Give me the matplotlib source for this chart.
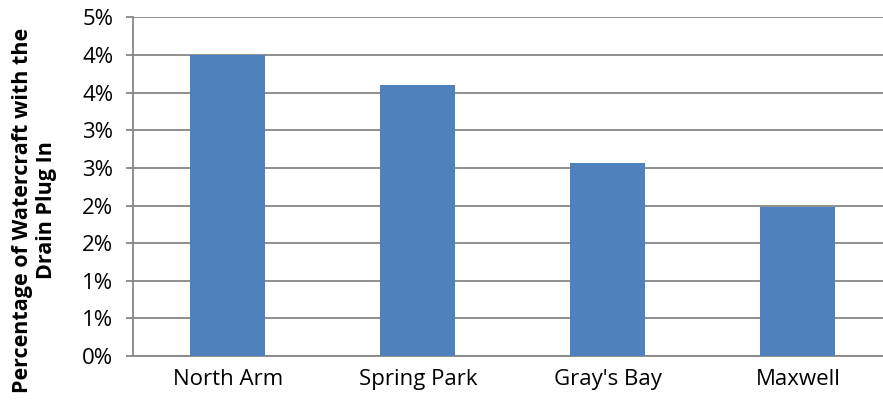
import math
import matplotlib
matplotlib.use('Agg')
import matplotlib.pyplot as plt
from matplotlib.ticker import FuncFormatter, MultipleLocator

sites = ['North Arm', 'Spring Park', "Gray's Bay", 'Maxwell']
pct_plug_in = [4.0, 3.60, 2.57, 1.98]

plt.rcParams['font.family'] = ['Open Sans', 'DejaVu Sans']

fig = plt.figure(figsize=(8.83, 4.07), dpi=100)
ax = fig.add_axes([0.1503, 0.1253, 0.861, 0.832])

grid_col = '#868686'
ax.bar(range(len(sites)), pct_plug_in, width=0.395, color='#4F81BD', zorder=3)

ax.set_xlim(-0.5, len(sites) - 0.5)
ax.set_ylim(0, 4.5)
ax.yaxis.set_major_locator(MultipleLocator(0.5))
# Excel-style rounding of the percent labels
ax.yaxis.set_major_formatter(FuncFormatter(lambda v, p: '%d%%' % math.floor(v + 0.5 + 1e-9)))
ax.grid(axis='y', color=grid_col, linewidth=1.3, zorder=0)

ax.set_xticks(range(len(sites)))
ax.set_xticklabels(sites)
ax.tick_params(axis='x', length=0, labelsize=16, pad=9)
ax.tick_params(axis='y', length=5, color=grid_col, width=1.3, labelsize=16, pad=9)

for s in ['top', 'right']:
    ax.spines[s].set_visible(False)
for s in ['left', 'bottom']:
    ax.spines[s].set_color(grid_col)
    ax.spines[s].set_linewidth(1.3)

ax.set_ylabel('Percentage of Watercraft with the\nDrain Plug In', fontsize=15.5,
              fontweight='bold', linespacing=1.15)
ax.yaxis.set_label_coords(-0.1, 0.43)

fig.savefig('out.png', dpi=100)
